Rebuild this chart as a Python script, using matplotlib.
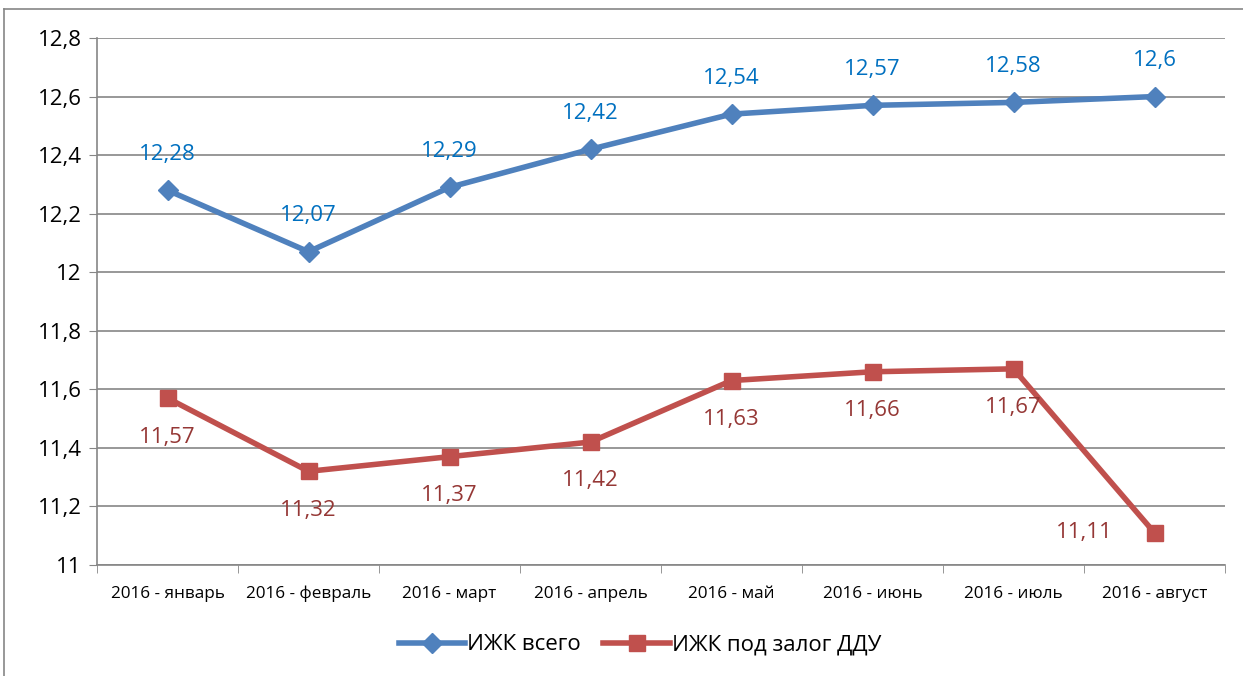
import matplotlib
matplotlib.use("Agg")
import matplotlib.pyplot as plt
from matplotlib.lines import Line2D
from matplotlib.ticker import FixedLocator

categories = ["2016 - январь", "2016 - февраль", "2016 - март", "2016 - апрель",
              "2016 - май", "2016 - июнь", "2016 - июль", "2016 - август"]
total = [12.28, 12.07, 12.29, 12.42, 12.54, 12.57, 12.58, 12.6]
ddu = [11.57, 11.32, 11.37, 11.42, 11.63, 11.66, 11.67, 11.11]
total_labels = ["12,28", "12,07", "12,29", "12,42", "12,54", "12,57", "12,58", "12,6"]
ddu_labels = ["11,57", "11,32", "11,37", "11,42", "11,63", "11,66", "11,67", "11,11"]
yticks = [11, 11.2, 11.4, 11.6, 11.8, 12, 12.2, 12.4, 12.6, 12.8]
ytick_labels = ["11", "11,2", "11,4", "11,6", "11,8", "12", "12,2", "12,4", "12,6", "12,8"]
series_names = ["ИЖК всего", "ИЖК под залог ДДУ"]

plt.rcParams['font.family'] = ['Open Sans', 'DejaVu Sans']

fig = plt.figure(figsize=(12.43, 6.76), dpi=100)
ax = fig.add_axes([97/1243, 1-565/676, 1128/1243, 527/676])

# outer frame (chart area border)
fig.add_artist(Line2D([4/1243, 1.0], [1-9/676, 1-9/676], color="#868686", lw=1.2,
                      transform=fig.transFigure))
fig.add_artist(Line2D([4/1243, 4/1243], [0, 1-9/676], color="#868686", lw=1.2,
                      transform=fig.transFigure))

blue = "#4F81BD"
red = "#C0504D"
x = list(range(len(categories)))

ax.plot(x, total, color=blue, lw=4, marker="D", markersize=10, zorder=3)
ax.plot(x, ddu, color=red, lw=4, marker="s", markersize=12, zorder=3)

for i, (v, lab) in enumerate(zip(total, total_labels)):
    ax.annotate(lab, (i, v), xytext=(0, 26), textcoords="offset points",
                ha="center", va="center", color="#0070C0", fontsize=16)
for i, (v, lab) in enumerate(zip(ddu, ddu_labels)):
    if i == len(ddu) - 1:
        ax.annotate(lab, (i, v), xytext=(-30, 0), textcoords="offset points",
                    ha="right", va="center", color="#953735", fontsize=16)
    else:
        ax.annotate(lab, (i, v), xytext=(0, -28), textcoords="offset points",
                    ha="center", va="center", color="#953735", fontsize=16)

ax.set_xlim(-0.5, len(categories) - 0.5)
ax.set_ylim(11, 12.8)
ax.set_yticks(yticks)
ax.set_yticklabels(ytick_labels, fontsize=16)
ax.set_xticks(x)
ax.set_xticklabels(categories, fontsize=12.3)
ax.xaxis.set_minor_locator(FixedLocator([i - 0.5 for i in range(len(categories) + 1)]))
ax.tick_params(axis="x", which="major", length=0, pad=15)
ax.tick_params(axis="x", which="minor", length=6, color="#868686", direction="out")
ax.tick_params(axis="y", length=6, color="#868686", direction="out", pad=5)

ax.grid(axis="y", color="#868686", lw=1.2)
ax.set_axisbelow(True)
for s in ["top", "right"]:
    ax.spines[s].set_visible(False)
for s in ["left", "bottom"]:
    ax.spines[s].set_color("#868686")
    ax.spines[s].set_linewidth(1.2)

handles = [Line2D([], [], color=blue, lw=4, marker="D", markersize=10),
           Line2D([], [], color=red, lw=4, marker="s", markersize=12)]
fig.legend(handles, series_names, loc="center", bbox_to_anchor=(0.515, 1-645/676),
           ncol=2, frameon=False, fontsize=16, handlelength=3.0, columnspacing=1.0,
           handletextpad=0.1)

fig.savefig("out.png", dpi=100)
